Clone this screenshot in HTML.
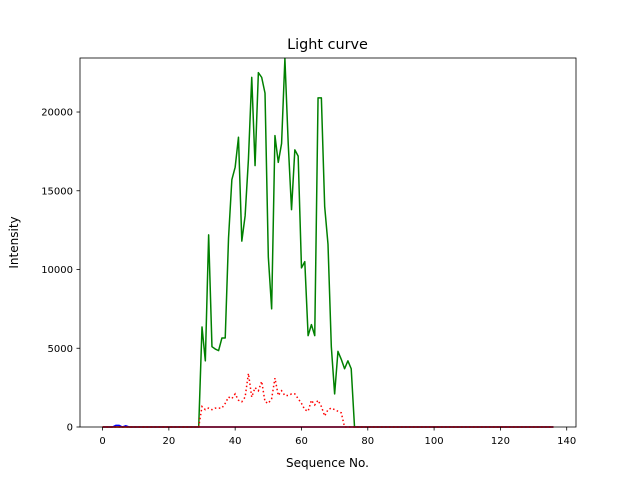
<!DOCTYPE html>
<html><head><meta charset="utf-8"><style>
body{margin:0;background:#fff;}
svg text{font-family:"DejaVu Sans","Liberation Sans",sans-serif;fill:#000;}
</style></head><body>
<svg id="chart" width="640" height="480" viewBox="0 0 640 480" xmlns="http://www.w3.org/2000/svg">
<rect x="0" y="0" width="640" height="480" fill="#fff"/>
<text x="327.5" y="49" font-size="14.4" text-anchor="middle">Light curve</text>
<g id="plot"></g>
<g id="axes"></g>
<text x="327.5" y="467" font-size="12" text-anchor="middle">Sequence No.</text>
<text transform="translate(18,242.5) rotate(-90)" font-size="12" text-anchor="middle">Intensity</text>
</svg>
<script>
const xTicks=[0,20,40,60,80,100,120,140];
const yTicks=[0,5000,10000,15000,20000];
const greenStart=29;
const greenValues=[0,6350,4200,12200,5100,4950,4850,5650,5650,12000,15700,16500,18400,11800,13400,17000,22200,16600,22500,22200,21200,10800,7500,18500,16800,18000,23400,18000,13800,17600,17200,10100,10500,5800,6500,5800,20900,20900,14000,11600,5100,2100,4800,4300,3700,4200,3700,0];
const redStart=29;
const redValues=[0,1300,1100,1200,1100,1200,1200,1200,1500,1900,1800,2100,1700,1600,1900,3400,1900,2500,2300,2900,1600,1500,1800,3100,2000,2300,2000,2000,2100,2100,1800,1500,1100,1000,1700,1400,1700,1300,700,1100,1200,1100,1000,900,0];
const blueStart=3;
const blueValues=[0,100,100,0,80,0];
const nPoints=137;

const L=80,R=576,T=58,B=427;
const xMin=-6.8,xMax=142.8,yMin=0,yMax=23430;
const X=v=>L+(v-xMin)/(xMax-xMin)*(R-L);
const Y=v=>B-(v-yMin)/(yMax-yMin)*(B-T);
const NS='http://www.w3.org/2000/svg';
const plot=document.getElementById('plot'),axes=document.getElementById('axes');
function mk(tag,attrs,parent){const e=document.createElementNS(NS,tag);for(const k in attrs)e.setAttribute(k,attrs[k]);parent.appendChild(e);return e;}
function full(start,vals){const pts=[];for(let i=0;i<nPoints;i++){const j=i-start;const v=(j>=0&&j<vals.length)?vals[j]:0;pts.push(X(i).toFixed(2)+','+Y(v).toFixed(2));}return pts.join(' ');}

const g=mk('polyline',{points:full(greenStart,greenValues),fill:'none',stroke:'#008000','stroke-width':1.5,'stroke-linejoin':'round'},plot);


const b=mk('polyline',{points:full(blueStart,blueValues),fill:'none',stroke:'#0000ff','stroke-width':1.5},plot);


const r=mk('polyline',{points:full(redStart,redValues),fill:'none',stroke:'#ff0000','stroke-width':1.5,'stroke-dasharray':'1.5,2.5'},plot);


const z=mk('line',{x1:X(0),x2:X(nPoints-1),y1:Y(0),y2:Y(0),stroke:'#ff0000','stroke-width':1.5},plot);



const frame=mk('rect',{x:L,y:T,width:R-L,height:B-T,fill:'none',stroke:'#000','stroke-width':0.8},axes);


xTicks.forEach(t=>{
  const x=X(t);
  const tl=mk('line',{x1:x,x2:x,y1:B,y2:B+3.5,stroke:'#000','stroke-width':0.8},axes);
  
  
  const tx=mk('text',{x:x,y:B+17,'font-size':10,'text-anchor':'middle'},axes);
  tx.textContent=t;
  
  
});
yTicks.forEach(t=>{
  const y=Y(t);
  const tl=mk('line',{x1:L-3.5,x2:L,y1:y,y2:y,stroke:'#000','stroke-width':0.8},axes);
  
  
  const tx=mk('text',{x:L-7,y:y+3.5,'font-size':10,'text-anchor':'end'},axes);
  tx.textContent=t;
  
  
});
</script>
</body></html>
